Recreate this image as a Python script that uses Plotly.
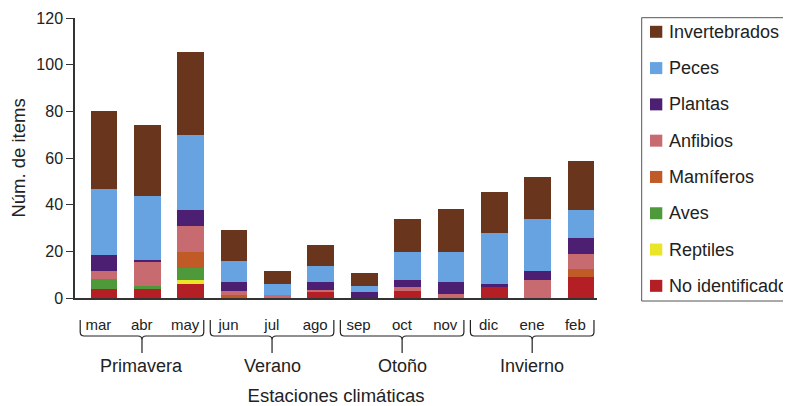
import plotly.graph_objects as go

# ---------------- data ----------------
months = ["mar", "abr", "may", "jun", "jul", "ago", "sep", "oct", "nov", "dic", "ene", "feb"]
seasons = ["Primavera", "Verano", "Otoño", "Invierno"]

# series listed bottom (first) to top (last) of each stack
series_names = ["No identificado", "Reptiles", "Aves", "Mamíferos", "Anfibios",
                "Plantas", "Peces", "Invertebrados"]

no_identificado = [3.7, 3.7, 5.9, 0, 0, 2.6, 0, 3.0, 0, 4.7, 0, 9.0]
reptiles        = [0, 0, 1.7, 0, 0, 0, 0, 0, 0, 0, 0, 0]
aves            = [4.3, 1.3, 5.2, 0, 0, 0, 0, 0, 0, 0, 0, 0]
mamiferos       = [0, 0, 6.8, 1.3, 0, 0, 0, 0, 0, 0, 0, 3.4]
anfibios        = [3.5, 10.3, 11.2, 1.7, 1.3, 0.8, 0, 1.7, 1.7, 0, 7.7, 6.5]
plantas         = [6.8, 0.9, 6.9, 3.9, 0, 3.5, 2.6, 3.0, 5.2, 1.3, 3.9, 6.8]
peces           = [28.4, 27.5, 32.2, 9.0, 4.7, 6.8, 2.5, 12.0, 12.8, 21.9, 22.3, 12.1]
invertebrados   = [33.5, 30.5, 35.7, 13.3, 5.6, 9.0, 5.6, 14.2, 18.5, 17.6, 18.0, 21.0]

series_values = [no_identificado, reptiles, aves, mamiferos, anfibios,
                 plantas, peces, invertebrados]
series_colors = ["#b31f24", "#ebe52a", "#4e9a3b", "#c05a26", "#c86b70",
                 "#4d1f73", "#66a3e0", "#69351d"]

y_ticks = [0, 20, 40, 60, 80, 100, 120]

# ---------------- layout geometry ----------------
# the page body has an 8px margin, so the figure is a bit smaller than the window
W, H = 783, 398
ML, MT = 67, 10
PW, PH = 522, 280
MR, MB = W - ML - PW, H - MT - PH
# plot area in window (screenshot) pixels
P_LEFT, P_BOTTOM = 75, 298
XMIN, XMAX = -0.67, 11.37
FONT = "Liberation Sans, Arial, Helvetica, sans-serif"
TXT = "#222222"


def px_x(px):
    return (px - P_LEFT) / PW


def px_y(py):
    return (P_BOTTOM - py) / PH


def data_px(x):
    return P_LEFT + (x - XMIN) / (XMAX - XMIN) * PW


xs = list(range(len(months)))

fig = go.Figure()
for name, vals, col in zip(series_names, series_values, series_colors):
    fig.add_trace(go.Bar(
        x=xs, y=vals, name=name, width=0.615,
        marker=dict(color=col, line=dict(width=0)),
        showlegend=False,
    ))

shapes = []
annotations = []

# ---- braces and season labels ----
yT, yH, yB, r = 320, 336, 353, 4
for k, season in enumerate(seasons):
    x0 = data_px(3 * k - 0.55)
    x1 = data_px(3 * k + 2.3)
    xc = (x0 + x1) / 2
    pts = [
        ("M", x0, yT), ("L", x0, yH - r), ("Q", x0, yH, x0 + r, yH),
        ("L", xc - r, yH), ("Q", xc, yH, xc, yH + r), ("L", xc, yB),
        ("M", xc, yH + r), ("Q", xc, yH, xc + r, yH),
        ("L", x1 - r, yH), ("Q", x1, yH, x1, yH - r), ("L", x1, yT),
    ]
    path = ""
    for p in pts:
        cmd = p[0]
        coords = p[1:]
        seg = []
        for i in range(0, len(coords), 2):
            seg.append(f"{px_x(coords[i]):.5f},{px_y(coords[i + 1]):.5f}")
        path += cmd + " " + " ".join(seg) + " "
    shapes.append(dict(type="path", path=path.strip(), xref="paper", yref="paper",
                       line=dict(color=TXT, width=1.2)))
    annotations.append(dict(text=season, x=px_x(xc), y=px_y(365.5), xref="paper", yref="paper",
                            xanchor="center", yanchor="middle", showarrow=False,
                            font=dict(family=FONT, size=18, color=TXT)))

# ---- legend (top to bottom: reverse of stacking order) ----
leg_left, leg_top, leg_bottom = 641.7, 17.7, 301
shapes.append(dict(type="rect", xref="paper", yref="paper",
                   x0=px_x(leg_left), x1=px_x(820), y0=px_y(leg_bottom), y1=px_y(leg_top),
                   line=dict(color="#555555", width=1), fillcolor="rgba(0,0,0,0)"))
for i, (name, col) in enumerate(zip(series_names[::-1], series_colors[::-1])):
    cy = 31.8 + 36.29 * i
    shapes.append(dict(type="rect", xref="paper", yref="paper",
                       x0=px_x(650), x1=px_x(662.3), y0=px_y(cy + 6), y1=px_y(cy - 6),
                       line=dict(width=0), fillcolor=col))
    annotations.append(dict(text=name, x=px_x(667), y=px_y(cy), xref="paper", yref="paper",
                            xanchor="left", yanchor="middle", showarrow=False,
                            font=dict(family=FONT, size=18, color=TXT)))

fig.update_layout(
    width=W, height=H,
    margin=dict(l=ML, r=MR, t=MT, b=MB, autoexpand=False),
    paper_bgcolor="white", plot_bgcolor="white",
    barmode="stack",
    font=dict(family=FONT, color=TXT),
    shapes=shapes, annotations=annotations,
    showlegend=False,
)
fig.update_xaxes(
    range=[XMIN, XMAX],
    tickmode="array", tickvals=[x - 0.13 for x in xs], ticktext=months,
    ticks="", showgrid=False, zeroline=False,
    showline=True, linecolor="#333333", linewidth=2,
    tickfont=dict(family=FONT, size=15, color=TXT),
    ticklabelstandoff=12,
    title=dict(text="Estaciones climáticas", standoff=65,
               font=dict(family=FONT, size=18.5, color=TXT)),
)
fig.update_yaxes(
    range=[0, 120], tickmode="array", tickvals=y_ticks,
    ticks="outside", ticklen=7, tickcolor="#333333", tickwidth=1.2,
    showgrid=False, zeroline=False,
    showline=True, linecolor="#333333", linewidth=1.5,
    tickfont=dict(family=FONT, size=16, color=TXT),
    title=dict(text="Núm. de items", standoff=11,
               font=dict(family=FONT, size=18.5, color=TXT)),
)

fig.write_html("out.html")
